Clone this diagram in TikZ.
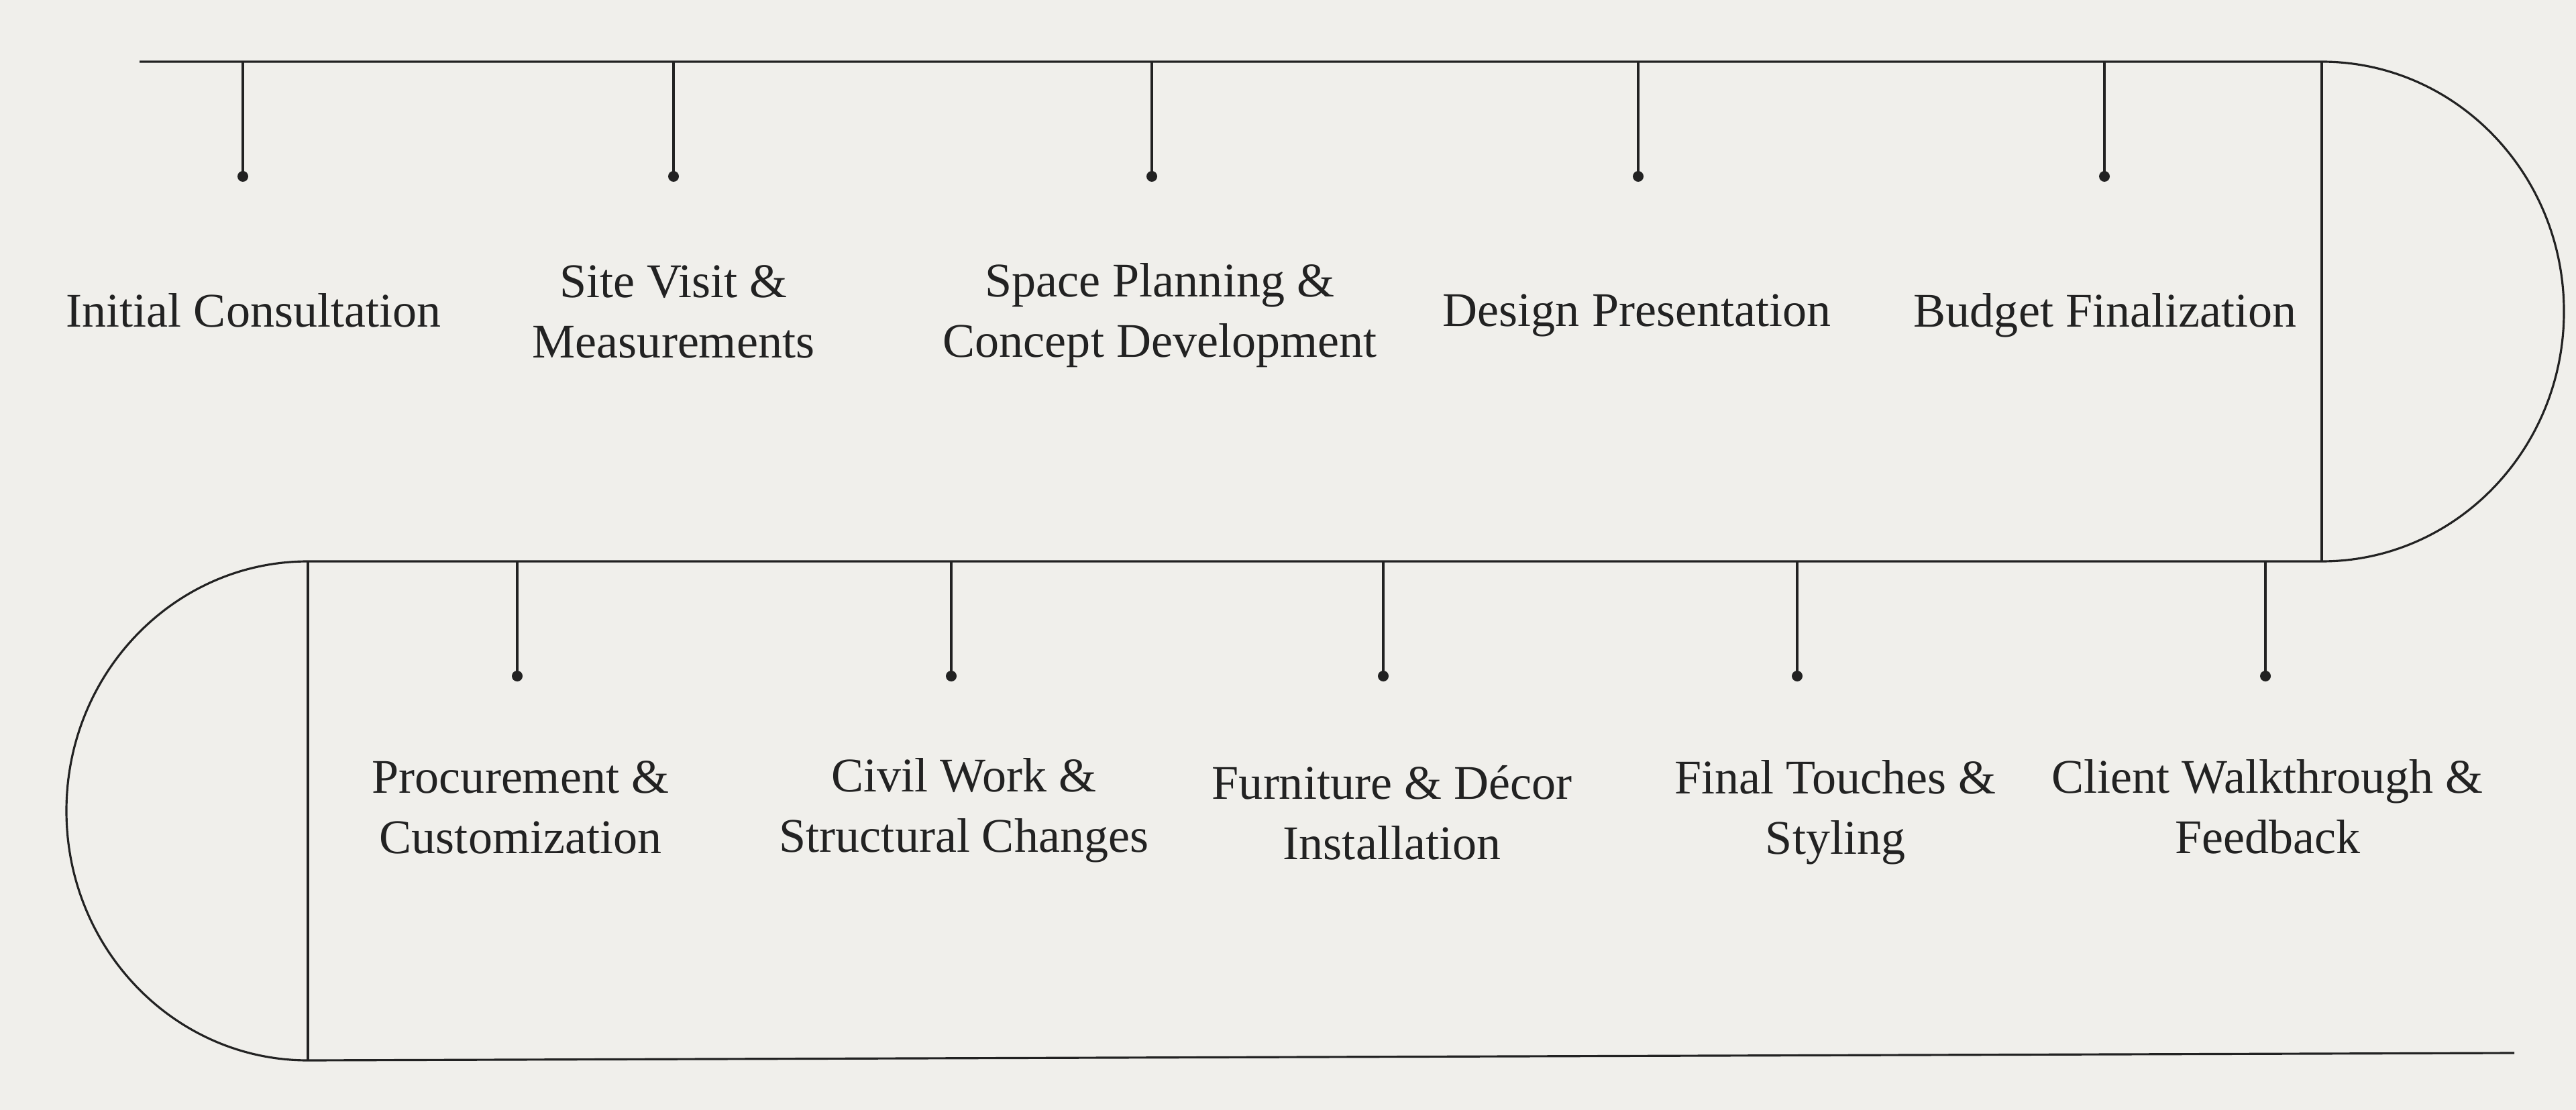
\documentclass[tikz,border=0pt]{standalone}
\usepackage{fontspec}
\setmainfont{Liberation Serif}
\definecolor{paper}{RGB}{240,239,235}
\definecolor{ink}{RGB}{34,34,34}

\begin{document}
\begin{tikzpicture}[line width=.9pt,
  track/.style={draw=ink, line width=.9pt},
  dot/.style={circle, fill=ink, inner sep=0pt, minimum size=1.6mm},
  stage/.style={align=center, text=ink, inner sep=0pt,
    font=\fontsize{20.5}{25.6}\selectfont}
  ]
  \fill[paper] (0,0) rectangle (38.4,-16.55);
  \useasboundingbox (0,0) rectangle (38.4,-16.55);
  \coordinate (tl) at (2.08,-0.92);
  \coordinate (tr) at (34.61,-0.92);
  \coordinate (mr) at (34.61,-8.37);
  \coordinate (ml) at (4.59,-8.37);
  \coordinate (bl) at (4.59,-15.81);
  \coordinate (br) at (37.48,-15.70);
  \draw[track] (tl) -- (tr)
    arc[start angle=90, end angle=-90, x radius=3.61, y radius=3.725]
    -- (ml)
    arc[start angle=90, end angle=270, x radius=3.6, y radius=3.72]
    -- (br);
  \draw[track] (tr) -- (mr);
  \draw[track] (ml) -- (bl);

  \node[dot] (d1) at (3.62,-2.63) {};
  \node[dot] (d2) at (10.04,-2.63) {};
  \node[dot] (d3) at (17.17,-2.63) {};
  \node[dot] (d4) at (24.42,-2.63) {};
  \node[dot] (d5) at (31.37,-2.63) {};
  \node[dot] (d6) at (7.71,-10.08) {};
  \node[dot] (d7) at (14.18,-10.08) {};
  \node[dot] (d8) at (20.62,-10.08) {};
  \node[dot] (d9) at (26.79,-10.08) {};
  \node[dot] (d10) at (33.77,-10.08) {};
  \draw[track] (d1 |- tl) -- (d1.center);
  \draw[track] (d2 |- tl) -- (d2.center);
  \draw[track] (d3 |- tl) -- (d3.center);
  \draw[track] (d4 |- tl) -- (d4.center);
  \draw[track] (d5 |- tl) -- (d5.center);
  \draw[track] (d6 |- ml) -- (d6.center);
  \draw[track] (d7 |- ml) -- (d7.center);
  \draw[track] (d8 |- ml) -- (d8.center);
  \draw[track] (d9 |- ml) -- (d9.center);
  \draw[track] (d10 |- ml) -- (d10.center);

  \node[stage] (consult) at (3.78,-4.63) {Initial Consultation};
  \node[stage] (visit) at (10.04,-4.65) {Site Visit \&\\Measurements};
  \node[stage] (plan) at (17.29,-4.70) {Space Planning \&\\Concept Development};
  \node[stage] (present) at (24.40,-4.70) {Design Presentation};
  \node[stage] (budget) at (31.38,-4.70) {Budget Finalization};
  \node[stage] (procure) at (7.76,-12.04) {Procurement \&\\Customization};
  \node[stage] (civil) at (14.37,-12.08) {Civil Work \&\\Structural Changes};
  \node[stage] (decor) at (20.75,-12.12) {Furniture \& Décor\\Installation};
  \node[stage] (styling) at (27.36,-12.11) {Final Touches \&\\Styling};
  \node[stage] (walk) at (33.80,-12.03) {Client Walkthrough \&\\Feedback};
\end{tikzpicture}
\end{document}
